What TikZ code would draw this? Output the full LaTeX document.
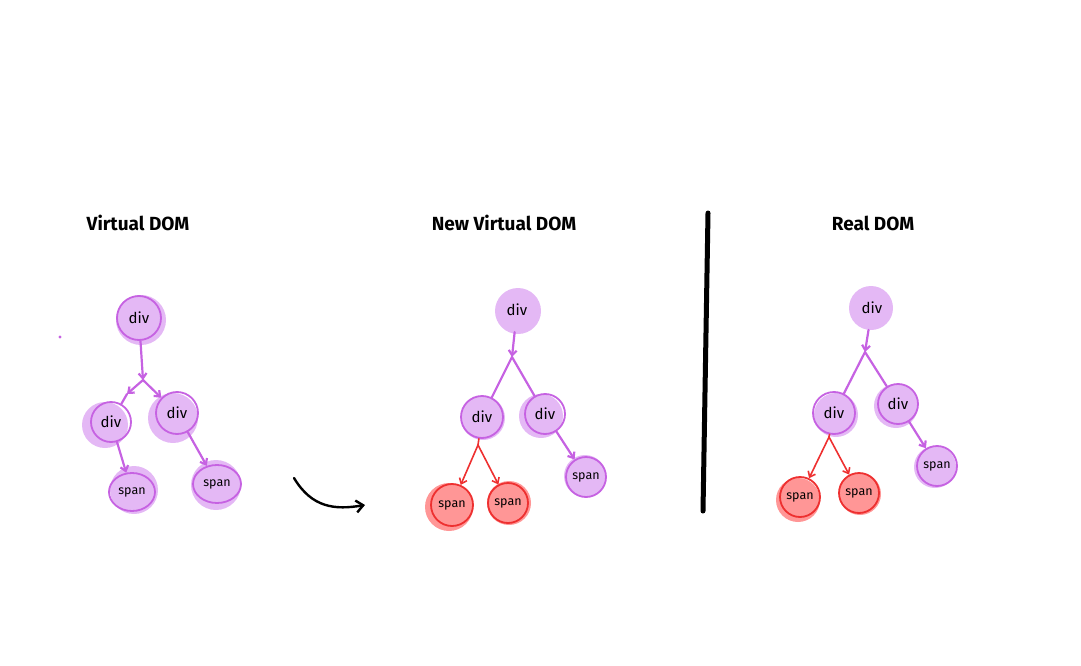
\documentclass[tikz,border=0pt]{standalone}
\usepackage{fontspec}
\setmainfont{Fira Sans}
\usetikzlibrary{arrows.meta,shapes.geometric}
\definecolor{pfill}{RGB}{228,184,245}
\definecolor{pline}{RGB}{198,98,226}
\definecolor{rfill}{RGB}{255,150,150}
\definecolor{rline}{RGB}{238,48,48}
\tikzset{
  title/.style={font=\fontsize{19}{22}\selectfont\bfseries, text=black},
  divtxt/.style={font=\fontsize{15}{17}\selectfont},
  spantxt/.style={font=\fontsize{12.5}{14}\selectfont},
  pnode/.style={circle, draw=pline, line width=1.8pt, inner sep=0pt, minimum size=#1},
  pnode/.default=40pt,
  pell/.style={ellipse, draw=pline, line width=1.8pt, inner sep=0pt, minimum width=#1, minimum height=38pt},
  pell/.default=46pt,
  rnode/.style={circle, draw=rline, line width=1.8pt, inner sep=0pt, minimum size=#1},
  rnode/.default=40pt,
  bnode/.style={circle, inner sep=0pt, minimum size=#1},
  bnode/.default=40pt,
  pedge/.style={draw=pline, line width=2.2pt, line cap=round},
  redge/.style={draw=rline, line width=1.6pt, line cap=round},
  tip/.style={-{Straight Barb[length=5pt,width=8pt]}},
}
\begin{document}
\begin{tikzpicture}[x=1pt,y=-1pt]
\useasboundingbox (0,0) rectangle (1081,666);
% titles
\node[title] (t1) at (138,223) {Virtual DOM};
\node[title] (t2) at (504,223) {New Virtual DOM};
\node[title] (t3) at (873,223) {Real DOM};
% divider
\coordinate (v1) at (708,213);
\coordinate (v2) at (703,511);
\draw[line width=5pt, line cap=round] (v1) -- (v2);
% stray dot
\fill[pline] (60,337) circle (1.6);

% ===== Tree 1 =====
\fill[pfill] (141,320) circle (25);
\fill[pfill] (105,425) circle (23);
\fill[pfill] (173,418) circle (25);
\fill[pfill] (134,490) circle (24);
\fill[pfill] (216,485) circle (25);
\node[pnode=44pt, divtxt] (a0) at (139,318) {div};
\node[pnode=40pt, divtxt] (a1) at (111,422) {div};
\node[pnode=42pt, divtxt] (a2) at (177,413) {div};
\node[pell=46pt, spantxt] (a3) at (132,492) {span};
\node[pell=48pt, spantxt] (a4) at (217,484) {span};
\coordinate (aj) at (143,380);
\coordinate (ab) at (127,394);
\draw[pedge,tip] (a0) -- (aj);
\draw[pedge,tip] (aj) -- (ab);
\draw[pedge] (ab) -- (a1);
\draw[pedge,tip] (aj) -- (a2);
\draw[pedge,tip] (a1) -- (a3);
\draw[pedge,tip] (a2) -- (a4);

% ===== Tree 2 =====
\fill[pfill] (518,311) circle (23);
\fill[pfill] (483,418) circle (22);
\fill[pfill] (541,416) circle (22);
\fill[pfill] (585,476) circle (21);
\fill[rfill] (449,507) circle (24);
\fill[rfill] (509,503) circle (22);
\node[bnode=44pt, divtxt] (b0) at (517,310) {div};
\node[pnode=42pt, divtxt] (b1) at (482,417) {div};
\node[pnode=40pt, divtxt] (b2) at (545,414) {div};
\node[pnode=40pt, spantxt] (b5) at (586,477) {span};
\node[rnode=42pt, spantxt] (b3) at (452,505) {span};
\node[rnode=40pt, spantxt] (b4) at (508,503) {span};
\coordinate (bj) at (512,357);
\coordinate (bk) at (478,445);
\draw[pedge,tip] (b0) -- (bj);
\draw[pedge] (bj) -- (b1);
\draw[pedge] (bj) -- (b2);
\draw[pedge,tip] (b2) -- (b5);
\draw[redge] (b1) -- (bk);
\draw[redge,tip] (bk) -- (b3);
\draw[redge,tip] (bk) -- (b4);

% ===== Tree 3 =====
\fill[pfill] (871,308) circle (22);
\fill[pfill] (836,415) circle (22);
\fill[pfill] (896,406) circle (22);
\fill[pfill] (935,467) circle (21);
\fill[rfill] (798,500) circle (22);
\fill[rfill] (860,494) circle (21);
\node[bnode=44pt, divtxt] (c0) at (872,308) {div};
\node[pnode=42pt, divtxt] (c1) at (834,413) {div};
\node[pnode=40pt, divtxt] (c2) at (898,404) {div};
\node[pnode=40pt, spantxt] (c5) at (937,466) {span};
\node[rnode=40pt, spantxt] (c3) at (800,497) {span};
\node[rnode=40pt, spantxt] (c4) at (859,493) {span};
\coordinate (cj) at (865,352);
\coordinate (ck) at (829,437);
\draw[pedge,tip] (c0) -- (cj);
\draw[pedge] (cj) -- (c1);
\draw[pedge] (cj) -- (c2);
\draw[pedge,tip] (c2) -- (c5);
\draw[redge] (c1) -- (ck);
\draw[redge,tip] (ck) -- (c3);
\draw[redge,tip] (ck) -- (c4);

% ===== curved arrow =====
\coordinate (m1) at (294,478);
\coordinate (m2) at (365,505);
\draw[line width=2.4pt, line cap=round, -{Straight Barb[length=7pt,width=12pt]}] (m1) .. controls (312,508) and (335,510) .. (m2);
\end{tikzpicture}
\end{document}
